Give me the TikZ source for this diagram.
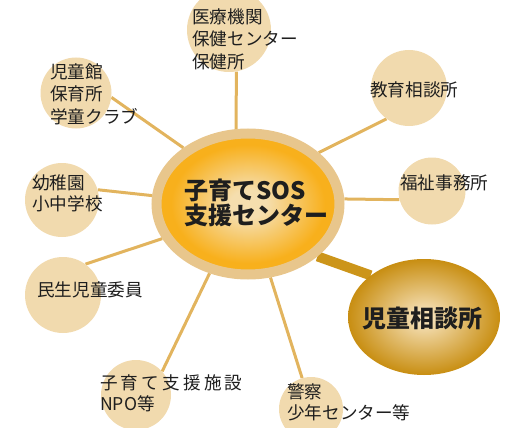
\documentclass[tikz,border=0pt]{standalone}
\usepackage{fontspec}
\setmainfont{Noto Sans CJK JP}
\usetikzlibrary{shapes.geometric,backgrounds}
\definecolor{circfill}{HTML}{F1DAAE}
\definecolor{linecol}{HTML}{E2B45E}
\definecolor{ringcol}{HTML}{E8C68C}
\definecolor{cOrange}{HTML}{F8B01C}
\definecolor{cLight}{HTML}{F5DEAE}
\definecolor{bDark}{HTML}{C88E12}
\definecolor{bLight}{HTML}{F4DEB2}
\definecolor{thickcol}{HTML}{CC951A}
\definecolor{txt}{HTML}{1E1E1E}
\pgfdeclareradialshading{centershade}{\pgfpointorigin}{color(0bp)=(cLight); color(5bp)=(cLight); color(21bp)=(cOrange); color(50bp)=(cOrange)}
\pgfdeclareradialshading{bigshade}{\pgfpointorigin}{color(0bp)=(bLight); color(3bp)=(bLight); color(25bp)=(bDark); color(50bp)=(bDark)}
\tikzset{
  smallc/.style={circle, fill=circfill, inner sep=0pt, minimum size=#1},
  conn/.style={draw=linecol, line width=3pt},
  lbl/.style={anchor=west, inner sep=0pt, text=txt, font=\fontsize{17.6}{20}\selectfont},
  biglbl/.style={inner sep=0pt, text=txt, font=\fontsize{24}{26}\bfseries\selectfont},
}
\begin{document}
\begin{tikzpicture}[x=1pt, y=-1pt]
\useasboundingbox (0,0) rectangle (509,428);
% nodes
\node[ellipse, inner sep=0pt, minimum width=183pt, minimum height=141pt,
      shading=centershade, draw=ringcol, line width=10pt] (hub) at (248,204) {};
\node[ellipse, inner sep=0pt, minimum width=152pt, minimum height=116pt,
      shading=bigshade] (jido) at (424,317) {};
\node[smallc=84pt] (med) at (229,30) {};
\node[smallc=71pt] (kid) at (76,93) {};
\node[smallc=76pt] (edu) at (409,88) {};
\node[smallc=67pt] (wel) at (432,191) {};
\node[smallc=74pt] (kind) at (62,200) {};
\node[smallc=76pt] (min) at (63,295) {};
\node[smallc=70pt] (npo) at (136,395) {};
\node[smallc=64pt] (pol) at (311,409) {};
% connectors (behind nodes)
\begin{scope}[on background layer]
\draw[conn] (hub.99) -- (med.-80);
\draw[conn] (hub.139) -- (kid.-7);
\draw[conn] (hub.36) -- (edu.-126);
\draw[conn] (hub.3) -- (wel.-165);
\draw[conn] (hub.175) -- (kind.16);
\draw[conn] (hub.-158) -- (min.54);
\draw[conn] (hub.-119) -- (npo.42);
\draw[conn] (hub.-73) -- (pol.106);
\draw[draw=thickcol, line width=10pt] (hub.-37) -- (jido.142);
\end{scope}
% labels
\node[biglbl, anchor=west] (h1) at (184,190) {子育てSOS};
\node[biglbl, anchor=west] (h2) at (184,215) {支援センター};
\node[biglbl] (j1) at (422,318) {児童相談所};
\node[lbl] (m1) at (192,17) {医療機関};
\node[lbl] (m2) at (192,39) {保健センター};
\node[lbl] (m3) at (192,62) {保健所};
\node[lbl] (k1) at (50,72) {児童館};
\node[lbl] (k2) at (50,94) {保育所};
\node[lbl] (k3) at (50,117) {学童クラブ};
\node[lbl] (e1) at (370,90) {教育相談所};
\node[lbl] (w1) at (400,183) {福祉事務所};
\node[lbl] (y1) at (32,183) {幼稚園};
\node[lbl] (y2) at (32,204) {小中学校};
\node[lbl] (s1) at (37,290) {民生児童委員};
\node[lbl] (n1) at (100,383) {子\kern3.2pt 育\kern3.2pt て\kern3.2pt 支\kern3.2pt 援\kern3.2pt 施\kern3.2pt 設};
\node[lbl] (n2) at (100,404) {NPO等};
\node[lbl] (p1) at (287,392) {警察};
\node[lbl] (p2) at (287,413) {少年センター等};
\end{tikzpicture}
\end{document}
